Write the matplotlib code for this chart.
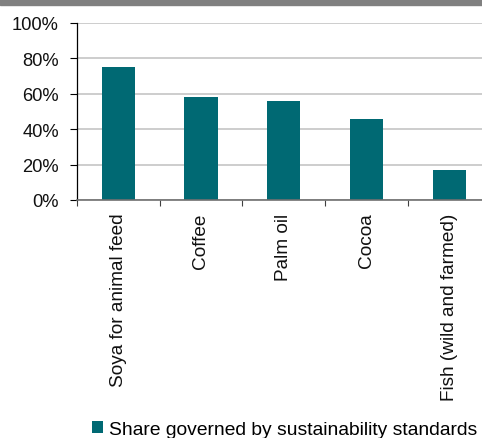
import matplotlib
matplotlib.use("Agg")
import matplotlib.pyplot as plt
import numpy as np

categories = ["Soya for animal feed", "Coffee", "Palm oil", "Cocoa", "Fish (wild and farmed)"]
values = [75, 58, 56, 46, 17]
yticks = [0, 20, 40, 60, 80, 100]
ytick_labels = ["0%", "20%", "40%", "60%", "80%", "100%"]
legend_label = "Share governed by sustainability standards"

plt.rcParams['font.family'] = ['Liberation Sans', 'DejaVu Sans']

fig = plt.figure(figsize=(4.82, 4.39), dpi=100)
# header strip
fig.patches.append(plt.Rectangle((0, 1 - 5.5/439), 1, 5.5/439, transform=fig.transFigure,
                                 color="#808080", zorder=0))

ax = fig.add_axes([76.7/482, 1 - 201/439, (491 - 76.7)/482, 177/439])
x = np.arange(len(categories))
bars = ax.bar(x, values, width=0.4, color="#006973", zorder=3, label=legend_label)

ax.set_xlim(-0.5, len(categories) - 0.5)
ax.set_ylim(0, 100)
ax.set_yticks(yticks)
ax.set_yticklabels(ytick_labels, fontsize=13.2, color="#111111")
ax.yaxis.grid(True, color="#c0c0c0", linewidth=1.1, zorder=0)
ax.set_axisbelow(True)

ax.set_xticks(x)
ax.set_xticklabels(categories, rotation=90, fontsize=13.7, color="#111111", va="top")
ax.set_xticks(np.arange(-0.5, len(categories), 1), minor=True)
ax.tick_params(axis='x', which='major', length=0, pad=9)
ax.tick_params(axis='x', which='minor', length=4, width=0.8, color="#404040", direction='out')
ax.tick_params(axis='y', which='major', length=4.8, width=0.8, color="#000000", pad=8)

for s in ["top", "right"]:
    ax.spines[s].set_visible(False)
ax.spines["left"].set_color("#000000")
ax.spines["left"].set_linewidth(0.9)
ax.spines["bottom"].set_color("#707070")
ax.spines["bottom"].set_linewidth(1.2)
ax.spines["bottom"].set_zorder(4)

fig.legend(handles=[bars], labels=[legend_label], loc="center", bbox_to_anchor=(284.5/482, 1 - 430.5/439),
           frameon=False, fontsize=13.9, handlelength=0.6, handleheight=0.6, handletextpad=0.3,
           borderpad=0)

fig.savefig("out.png", dpi=100)
